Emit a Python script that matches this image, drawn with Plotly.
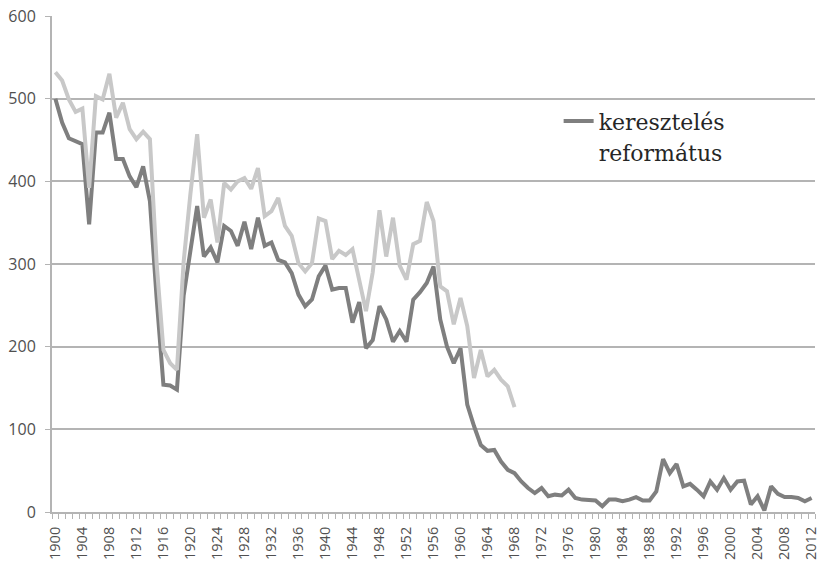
import plotly.graph_objects as go

# years on the category axis
years = list(range(1900, 2013))

# keresztelés (dark line), 1900-2012
keresztelés = [
    500, 471, 452, 449, 445, 348, 459, 459, 483, 427,   # 1900-1909
    427, 406, 393, 418, 376, 258, 154, 153, 148, 262,   # 1910-1919
    320, 370, 309, 320, 302, 346, 340, 322, 351, 318,   # 1920-1929
    356, 322, 326, 305, 302, 289, 263, 249, 257, 285,   # 1930-1939
    298, 269, 271, 271, 229, 254, 198, 208, 249, 233,   # 1940-1949
    206, 219, 206, 257, 266, 277, 297, 233, 200, 180,   # 1950-1959
    198, 130, 104, 81, 74, 75, 61, 51, 47, 37,          # 1960-1969
    29, 23, 29, 19, 21, 20, 27, 17, 15, 14,             # 1970-1979
    14, 7, 15, 15, 13, 15, 18, 14, 14, 25,              # 1980-1989
    64, 47, 58, 31, 34, 27, 19, 37, 27, 41,             # 1990-1999
    27, 37, 38, 9, 19, 2, 31, 22, 18, 18,               # 2000-2009
    17, 13, 17,                                         # 2010-2012
]

# református (light line), only 1900-1968
reformatus_years = list(range(1900, 1969))
reformatus = [
    532, 522, 499, 484, 488, 392, 503, 499, 530, 477,   # 1900-1909
    495, 463, 451, 460, 451, 300, 196, 180, 172, 303,   # 1910-1919
    385, 457, 356, 378, 326, 398, 390, 400, 404, 391,   # 1920-1929
    416, 358, 364, 380, 346, 334, 301, 291, 301, 355,   # 1930-1939
    352, 306, 316, 311, 318, 278, 243, 290, 365, 309,   # 1940-1949
    356, 298, 281, 324, 328, 375, 352, 273, 267, 227,   # 1950-1959
    259, 225, 162, 196, 164, 172, 160, 152, 127,        # 1960-1968
]

tick_years = list(range(1900, 2013, 4))
tick_labels = [str(y) for y in tick_years]

DARK = '#7f7f7f'
LIGHT = '#c8c8c8'
GRID = '#b4b4b4'
TEXT = '#505050'

fig = go.Figure()

fig.add_trace(go.Scatter(
    x=years,
    y=keresztelés,
    mode='lines',
    name='keresztelés',
    line=dict(color=DARK, width=4),
))

fig.add_trace(go.Scatter(
    x=reformatus_years,
    y=reformatus,
    mode='lines',
    name='református',
    showlegend=False,
    line=dict(color=LIGHT, width=4),
))

# second legend line without a symbol
fig.add_trace(go.Scatter(
    x=[None],
    y=[None],
    mode='lines',
    name='református',
    line=dict(color='rgba(0,0,0,0)', width=4),
))

fig.update_layout(
    width=822,
    height=562,
    margin=dict(l=52, r=7, t=16, b=50),
    paper_bgcolor='white',
    plot_bgcolor='white',
    font=dict(family='Open Sans', size=15, color=TEXT),
    legend=dict(
        x=0.664,
        y=0.83,
        xanchor='left',
        yanchor='top',
        bgcolor='rgba(0,0,0,0)',
        font=dict(family='DejaVu Serif', size=22, color='#262626'),
        itemwidth=30,
        tracegroupgap=0,
    ),
    xaxis=dict(
        range=[1899.5, 2012.5],
        automargin=False,
        tickmode='array',
        tickvals=tick_years,
        ticktext=tick_labels,
        tickangle=-90,
        ticks='',
        ticklabelstandoff=7,
        ticklabeloverflow='allow',
        showgrid=False,
        zeroline=False,
        showline=True,
        linecolor=GRID,
        linewidth=2,
        tickfont=dict(size=14.5, color=TEXT),
        minor=dict(ticks='outside', tick0=1899.5, dtick=1, ticklen=5,
                   tickcolor=GRID, showgrid=False),
    ),
    yaxis=dict(
        range=[0, 600],
        automargin=False,
        dtick=100,
        ticks='outside',
        ticklen=5,
        tickcolor=GRID,
        ticklabelstandoff=6,
        ticklabeloverflow='allow',
        showgrid=True,
        gridcolor=GRID,
        gridwidth=1.5,
        zeroline=False,
        showline=True,
        linecolor=GRID,
        linewidth=2,
        tickfont=dict(size=16, color=TEXT),
    ),
    showlegend=True,
)

# drop the default 8px body margin so the figure fills the window exactly
fig.write_html("out.html", config={'displayModeBar': False},
               post_script="document.body.style.margin = '0';")
